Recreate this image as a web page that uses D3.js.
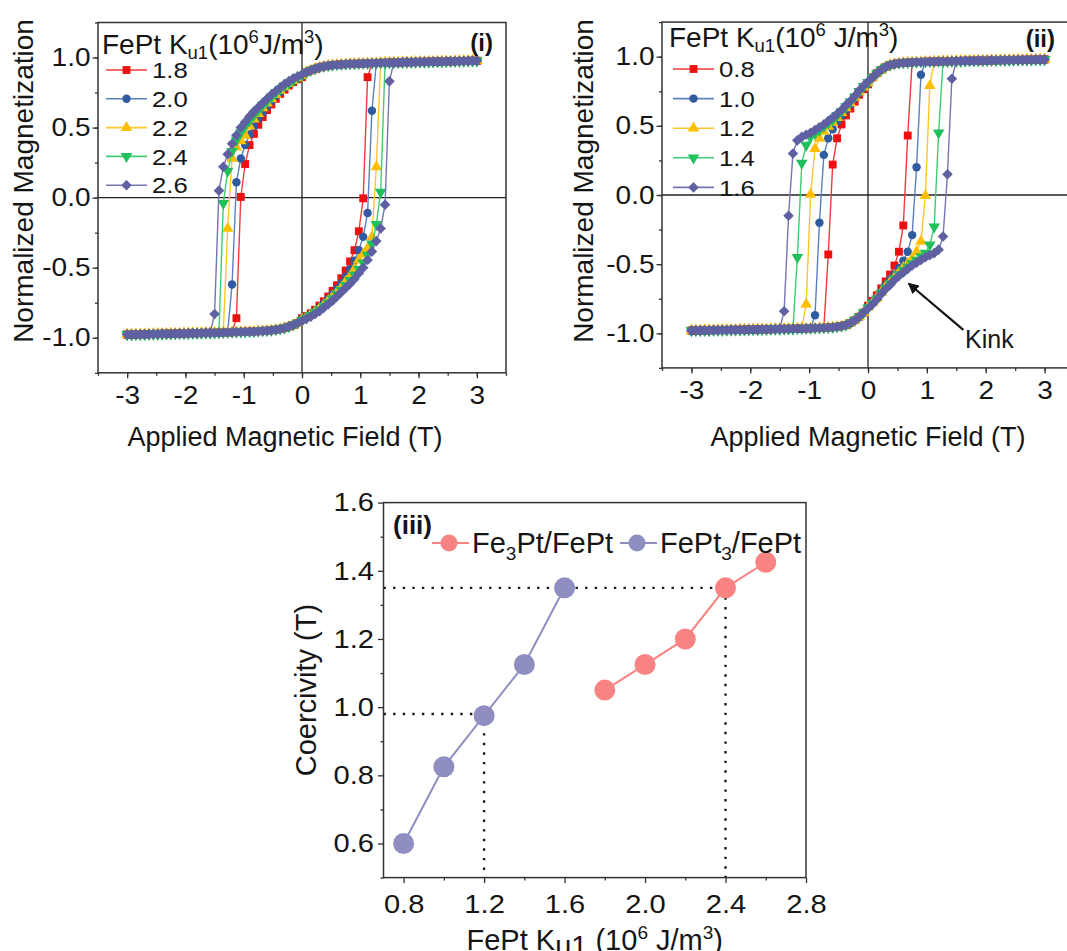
<!DOCTYPE html>
<html>
<head>
<meta charset="utf-8">
<script src="https://cdn.jsdelivr.net/npm/d3@7"></script>
<style>
  body { margin: 0; background: #fff; }
  svg text { font-family: "Liberation Sans", Arial, sans-serif; fill: #151515; }
</style>
</head>
<body>
<svg id="fig" width="1067" height="951"></svg>
<script>
// ---------------------------------------------------------------------------
// Data
// ---------------------------------------------------------------------------
// Field sweep: -3 T .. +3 T in 0.075 T steps (81 points per branch)
const FIELD_STEP = 0.075;
const fields = d3.range(-40, 41).map(k => +(k * FIELD_STEP).toFixed(3));

// FePt anisotropy constants (10^6 J/m^3) for the two bilayers
const kuFe3Pt = ["1.8", "2.0", "2.2", "2.4", "2.6"];
const kuFePt3 = ["0.8", "1.0", "1.2", "1.4", "1.6"];

// Fe3Pt/FePt: saturated upper branch, H = +0.075 .. +3.0 T
const upperBranchFe3Pt = [0.895, 0.908, 0.92, 0.93, 0.937, 0.942, 0.946, 0.949, 0.951, 0.953,
  0.955, 0.956, 0.957, 0.958, 0.959, 0.960, 0.961, 0.962, 0.963, 0.964,
  0.965, 0.965, 0.966, 0.967, 0.967, 0.968, 0.969, 0.969, 0.970, 0.971,
  0.971, 0.972, 0.973, 0.973, 0.974, 0.975, 0.975, 0.976, 0.977, 0.977];

// Fe3Pt/FePt: descending branch from H = 0 towards negative field until reversal
const reversalFe3Pt_18 = [0.86, 0.845, 0.825, 0.80, 0.77, 0.74, 0.705, 0.665, 0.625, 0.575,
  0.52, 0.455, 0.375, 0.24, 0.005, -0.86];
const reversalFe3Pt_20 = [0.865, 0.85, 0.83, 0.81, 0.785, 0.755, 0.725, 0.69, 0.65, 0.61,
  0.565, 0.51, 0.45, 0.375, 0.28, 0.11, -0.62];
const reversalFe3Pt_22 = [0.87, 0.855, 0.835, 0.815, 0.79, 0.765, 0.735, 0.705, 0.675, 0.64,
  0.60, 0.56, 0.51, 0.445, 0.405, 0.36, 0.28, -0.22];
const reversalFe3Pt_24 = [0.875, 0.86, 0.84, 0.82, 0.80, 0.775, 0.75, 0.72, 0.69, 0.66,
  0.625, 0.59, 0.55, 0.51, 0.465, 0.41, 0.33, 0.19, -0.04];
const reversalFe3Pt_26 = [0.88, 0.865, 0.85, 0.83, 0.81, 0.785, 0.76, 0.735, 0.705, 0.675,
  0.645, 0.615, 0.58, 0.54, 0.50, 0.445, 0.385, 0.31, 0.22, 0.05, -0.83];

// FePt3/FePt: saturated upper branch, H = +0.075 .. +3.0 T
const upperBranchFePt3 = [0.85, 0.88, 0.905, 0.925, 0.94, 0.948, 0.953, 0.956, 0.958, 0.96,
  0.961, 0.962, 0.963, 0.964, 0.965, 0.966, 0.967, 0.967, 0.968, 0.969,
  0.969, 0.970, 0.971, 0.971, 0.972, 0.972, 0.973, 0.974, 0.974, 0.975,
  0.975, 0.976, 0.976, 0.977, 0.977, 0.978, 0.978, 0.979, 0.979, 0.98];

// FePt3/FePt: descending branch from H = 0 (kinked loops)
const reversalFePt3_08 = [0.80, 0.765, 0.725, 0.675, 0.625, 0.575, 0.51, 0.41, 0.22, -0.43];
const reversalFePt3_10 = [0.805, 0.775, 0.74, 0.70, 0.655, 0.615, 0.575, 0.53, 0.475, 0.41,
  0.29, -0.20, -0.87];
const reversalFePt3_12 = [0.81, 0.78, 0.745, 0.705, 0.665, 0.63, 0.595, 0.56, 0.525, 0.495,
  0.46, 0.41, 0.335, 0.005, -0.79];
const reversalFePt3_14 = [0.815, 0.785, 0.75, 0.71, 0.675, 0.64, 0.605, 0.575, 0.545, 0.52,
  0.495, 0.47, 0.445, 0.42, 0.36, 0.23, -0.45];
const reversalFePt3_16 = [0.82, 0.79, 0.755, 0.715, 0.68, 0.65, 0.615, 0.585, 0.56, 0.535,
  0.51, 0.49, 0.47, 0.45, 0.435, 0.42, 0.395, 0.30, -0.15, -0.84];

// Coercivity versus FePt anisotropy
const coercivityFe3Pt = [1.05, 1.125, 1.2, 1.35, 1.425];
const coercivityFePt3 = [0.6, 0.825, 0.975, 1.125, 1.35];
const kuFe3PtValues = [1.8, 2.0, 2.2, 2.4, 2.6];
const kuFePt3Values = [0.8, 1.0, 1.2, 1.4, 1.6];
// matching-coercivity guides: [Ku, Hc]
const guideFePt3 = [1.2, 0.98];
const guideFe3Pt = [2.4, 1.35];

// Tick values
const fieldTicks = [-3, -2, -1, 0, 1, 2, 3];
const fieldMinorTicks = d3.range(-7, 8).map(k => k * 0.5);
const magTicks = [-1.0, -0.5, 0.0, 0.5, 1.0];
const magMinorTicks = d3.range(-5, 6).map(k => k * 0.25);
const kuTicks = [0.8, 1.2, 1.6, 2.0, 2.4, 2.8];
const kuMinorTicks = [1.0, 1.4, 1.8, 2.2, 2.6];
const hcTicks = [0.6, 0.8, 1.0, 1.2, 1.4, 1.6];
const hcMinorTicks = [0.5, 0.7, 0.9, 1.1, 1.3, 1.5];

// ---------------------------------------------------------------------------
// Styles
// ---------------------------------------------------------------------------
const seriesStyles = [
  { fill: "#ee1010", line: "#f03a3a", type: d3.symbolSquare,   size: 62, rot: 0 },
  { fill: "#2e5c9f", line: "#5a80bf", type: d3.symbolCircle,   size: 56, rot: 0 },
  { fill: "#ffbf00", line: "#ffc62a", type: d3.symbolTriangle, size: 58, rot: 0 },
  { fill: "#20c05c", line: "#40cc74", type: d3.symbolTriangle, size: 58, rot: 180 },
  { fill: "#5f60a2", line: "#7475b2", type: d3.symbolSquare,   size: 56, rot: 45 }
];
const TICK_SX = 1.12;   // tick labels are set a little wide

const svg = d3.select("#fig");

function widen(sel, sx) {
  sel.each(function () {
    const t = d3.select(this);
    const x = +t.attr("x") || 0, y = +t.attr("y") || 0;
    t.attr("x", 0).attr("y", 0)
     .attr("transform", `translate(${x},${y}) scale(${sx},1)`);
  });
}

function drawAxes(g, x, y, o) {
  const y0 = y.range()[0], x0 = x.range()[0];
  const styleTicks = s => {
    s.select(".domain").remove();
    s.selectAll(".tick line").attr("stroke", "#333").attr("stroke-width", 1.3);
    s.selectAll(".tick text").style("font-size", o.tickFont + "px").attr("fill", "#151515");
  };
  g.append("g").attr("transform", `translate(0,${y0})`)
    .call(d3.axisBottom(x).tickValues(o.xMinor).tickSize(3).tickFormat(""))
    .call(styleTicks);
  const gx = g.append("g").attr("transform", `translate(0,${y0})`)
    .call(d3.axisBottom(x).tickValues(o.xMajor).tickSize(5.5).tickPadding(o.xPad).tickFormat(o.xFmt))
    .call(styleTicks);
  g.append("g").attr("transform", `translate(${x0},0)`)
    .call(d3.axisLeft(y).tickValues(o.yMinor).tickSize(3).tickFormat(""))
    .call(styleTicks);
  const gy = g.append("g").attr("transform", `translate(${x0},0)`)
    .call(d3.axisLeft(y).tickValues(o.yMajor).tickSize(5.5).tickPadding(o.yPad).tickFormat(o.yFmt))
    .call(styleTicks);
  widen(gx.selectAll(".tick text"), TICK_SX);
  widen(gy.selectAll(".tick text"), TICK_SX);
  gx.selectAll(".tick text").attr("font-family", null);
  gy.selectAll(".tick text").attr("font-family", null);
}

function frame(g, x, y) {
  const [l, r] = x.range(), [b, t] = y.range();
  g.append("rect").attr("x", l).attr("y", t).attr("width", r - l).attr("height", b - t)
    .attr("fill", "none").attr("stroke", "#333").attr("stroke-width", 1.5);
}

// descending branch from the saturated branch + reversal segment,
// return branch as its point reflection M(H) -> -M(-H)
function buildLoop(sat, rev) {
  const desc = d3.range(-40, 41).map(k => {
    if (k > 0) return sat[k - 1];
    const j = -k;
    return j < rev.length ? rev[j] : -sat[j - 1];
  });
  const pts = [];
  for (let i = 80; i >= 0; i--) pts.push([fields[i], desc[i]]);
  for (let i = 0; i <= 80; i++) pts.push([fields[i], -desc[80 - i]]);
  return pts;
}

function legendTitle(g, x, y, size, spaced) {
  const small = size * 0.66;
  const t = g.append("text").attr("x", x).attr("y", y).style("font-size", size + "px");
  t.append("tspan").text("FePt K");
  t.append("tspan").text("u1").style("font-size", small + "px").attr("dy", 5);
  t.append("tspan").text("(10").attr("dy", -5);
  t.append("tspan").text("6").style("font-size", small + "px").attr("dy", -11);
  t.append("tspan").text(spaced ? " J/m" : "J/m").attr("dy", 11);
  t.append("tspan").text("3").style("font-size", small + "px").attr("dy", -11);
  t.append("tspan").text(")").attr("dy", 11);
}

function hysteresisPanel(box, sat, reversals, labels, lg, tag, titles) {
  const g = svg.append("g");
  const x = d3.scaleLinear().domain([-3.5, 3.5]).range([box.left, box.right]);
  const y = d3.scaleLinear().domain([-1.25, 1.25]).range([box.bottom, box.top]);

  // zero lines
  g.append("line").attr("x1", x(0)).attr("x2", x(0)).attr("y1", y(1.25)).attr("y2", y(-1.25))
    .attr("stroke", "#222").attr("stroke-width", 1.3);
  g.append("line").attr("x1", x(-3.5)).attr("x2", x(3.5)).attr("y1", y(0)).attr("y2", y(0))
    .attr("stroke", "#222").attr("stroke-width", 1.3);

  const line = d3.line().x(d => x(d[0])).y(d => y(d[1]));
  reversals.forEach((rev, i) => {
    const st = seriesStyles[i];
    const pts = buildLoop(sat, rev);
    g.append("path").attr("d", line(pts)).attr("fill", "none")
      .attr("stroke", st.line).attr("stroke-width", 1.4);
    const sym = d3.symbol().type(st.type).size(st.size)();
    g.append("g").selectAll("path").data(pts).join("path")
      .attr("d", sym).attr("fill", st.fill)
      .attr("transform", d => `translate(${x(d[0])},${y(d[1])}) rotate(${st.rot})`);
  });

  drawAxes(g, x, y, {
    xMajor: fieldTicks, xMinor: fieldMinorTicks, xFmt: d => String(d), xPad: 8,
    yMajor: magTicks, yMinor: magMinorTicks, yFmt: d => d.toFixed(1), yPad: 2,
    tickFont: 25
  });
  frame(g, x, y);

  // legend
  legendTitle(g, lg.x, lg.titleY, 28, lg.spaced);
  labels.forEach((lab, i) => {
    const st = seriesStyles[i];
    const cy = lg.rowY + i * lg.rowGap;
    g.append("line").attr("x1", lg.x + 4).attr("x2", lg.x + 45).attr("y1", cy).attr("y2", cy)
      .attr("stroke", st.line).attr("stroke-width", 1.6);
    g.append("path").attr("d", d3.symbol().type(st.type).size(st.size)())
      .attr("fill", st.fill)
      .attr("transform", `translate(${lg.x + 24.5},${cy}) rotate(${st.rot})`);
    const t = g.append("text").attr("x", lg.x + 50).attr("y", cy).attr("dy", "0.36em")
      .style("font-size", "23px").text(lab);
    widen(t, TICK_SX);
  });

  g.append("text").attr("x", x(3.5) - tag.dx).attr("y", tag.y).attr("text-anchor", "end")
    .style("font-size", "24px").style("font-weight", "bold").text(tag.text);

  g.append("text").attr("x", titles.xCenter).attr("y", 446).attr("text-anchor", "middle")
    .style("font-size", "27px").text("Applied Magnetic Field (T)");
  g.append("text").attr("transform", `translate(${titles.yBase},${181}) rotate(-90)`)
    .attr("text-anchor", "middle").style("font-size", "28px").text("Normalized Magnetization");
  return { g, x, y };
}

// ---------------------------------------------------------------------------
// (i) Fe3Pt/FePt loops
// ---------------------------------------------------------------------------
hysteresisPanel(
  { left: 98, right: 506, top: 22.5, bottom: 372.8 },
  upperBranchFe3Pt,
  [reversalFe3Pt_18, reversalFe3Pt_20, reversalFe3Pt_22, reversalFe3Pt_24, reversalFe3Pt_26],
  kuFe3Pt,
  { x: 102, titleY: 54, rowY: 70, rowGap: 28.8, spaced: false },
  { text: "(i)", dx: 13, y: 51 },
  { xCenter: 285, yBase: 33 }
);

// ---------------------------------------------------------------------------
// (ii) FePt3/FePt loops with kink
// ---------------------------------------------------------------------------
const p2 = hysteresisPanel(
  { left: 662, right: 1074, top: 22.1, bottom: 367.9 },
  upperBranchFePt3,
  [reversalFePt3_08, reversalFePt3_10, reversalFePt3_12, reversalFePt3_14, reversalFePt3_16],
  kuFePt3,
  { x: 669, titleY: 47, rowY: 69, rowGap: 29.6, spaced: true },
  { text: "(ii)", dx: 19, y: 47 },
  { xCenter: 868, yBase: 593 }
);

svg.append("defs").append("marker").attr("id", "arrowhead")
  .attr("viewBox", "0 0 10 10").attr("refX", 9).attr("refY", 5)
  .attr("markerWidth", 11).attr("markerHeight", 11).attr("markerUnits", "userSpaceOnUse")
  .attr("orient", "auto")
  .append("path").attr("d", "M0,0 L10,5 L0,10 Z").attr("fill", "#111");
p2.g.append("line")
  .attr("x1", p2.x(1.62)).attr("y1", p2.y(-0.975))
  .attr("x2", p2.x(0.69)).attr("y2", p2.y(-0.64))
  .attr("stroke", "#111").attr("stroke-width", 2.2).attr("marker-end", "url(#arrowhead)");
p2.g.append("text").attr("x", p2.x(1.65)).attr("y", p2.y(-1.105))
  .style("font-size", "25px").text("Kink");

// ---------------------------------------------------------------------------
// (iii) coercivity vs anisotropy
// ---------------------------------------------------------------------------
(function () {
  const g = svg.append("g");
  const x = d3.scaleLinear().domain([0.7, 2.8]).range([383.5, 806]);
  const y = d3.scaleLinear().domain([0.5, 1.6]).range([877.6, 502.6]);

  const dotted = (x1, y1, x2, y2) => g.append("line")
    .attr("x1", x(x1)).attr("y1", y(y1)).attr("x2", x(x2)).attr("y2", y(y2))
    .attr("stroke", "#1a1a1a").attr("stroke-width", 2.4)
    .attr("stroke-dasharray", "2.4,7.2");
  dotted(0.7, guideFe3Pt[1], guideFe3Pt[0], guideFe3Pt[1]);
  dotted(guideFe3Pt[0], guideFe3Pt[1], guideFe3Pt[0], 0.5);
  dotted(0.7, guideFePt3[1], guideFePt3[0], guideFePt3[1]);
  dotted(guideFePt3[0], guideFePt3[1], guideFePt3[0], 0.5);

  const sets = [
    { k: kuFePt3Values, hc: coercivityFePt3, color: "#8e8fc0" },
    { k: kuFe3PtValues, hc: coercivityFe3Pt, color: "#f88383" }
  ];
  const line = d3.line().x(d => x(d[0])).y(d => y(d[1]));
  sets.forEach(s => {
    const pts = s.k.map((k, i) => [k, s.hc[i]]);
    g.append("path").attr("d", line(pts)).attr("fill", "none")
      .attr("stroke", s.color).attr("stroke-width", 2);
    g.selectAll(null).data(pts).join("circle")
      .attr("cx", d => x(d[0])).attr("cy", d => y(d[1])).attr("r", 10.5)
      .attr("fill", s.color);
  });

  drawAxes(g, x, y, {
    xMajor: kuTicks, xMinor: kuMinorTicks, xFmt: d => d.toFixed(1), xPad: 11,
    yMajor: hcTicks, yMinor: hcMinorTicks, yFmt: d => d.toFixed(1), yPad: 4,
    tickFont: 26
  });
  frame(g, x, y);

  // legend
  g.append("text").attr("x", 393).attr("y", 534).style("font-size", "26px")
    .style("font-weight", "bold").text("(iii)");
  const legendItems = [
    { color: "#f88383", x0: 432, main: "Fe", sub: "3", rest: "Pt/FePt" },
    { color: "#8e8fc0", x0: 620, main: "FePt", sub: "3", rest: "/FePt" }
  ];
  legendItems.forEach(it => {
    g.append("line").attr("x1", it.x0).attr("x2", it.x0 + 37).attr("y1", 543).attr("y2", 543)
      .attr("stroke", it.color).attr("stroke-width", 2);
    g.append("circle").attr("cx", it.x0 + 17).attr("cy", 543).attr("r", 8.5).attr("fill", it.color);
    const t = g.append("text").attr("x", it.x0 + 40).attr("y", 553).style("font-size", "29px");
    t.append("tspan").text(it.main);
    t.append("tspan").text(it.sub).style("font-size", "19px").attr("dy", 7);
    t.append("tspan").text(it.rest).attr("dy", -7);
  });

  g.append("text").attr("transform", `translate(316,${y(1.05)}) rotate(-90)`)
    .attr("text-anchor", "middle").style("font-size", "29px").text("Coercivity (T)");

  const xt = g.append("text").attr("x", x(1.75)).attr("y", 950).attr("text-anchor", "middle")
    .style("font-size", "29px");
  xt.append("tspan").text("FePt K");
  xt.append("tspan").text("u1").attr("dy", 6);
  xt.append("tspan").text(" (10").attr("dy", -6);
  xt.append("tspan").text("6").style("font-size", "19px").attr("dy", -11);
  xt.append("tspan").text(" J/m").attr("dy", 11);
  xt.append("tspan").text("3").style("font-size", "19px").attr("dy", -11);
  xt.append("tspan").text(")").attr("dy", 11);
})();
</script>
</body>
</html>
